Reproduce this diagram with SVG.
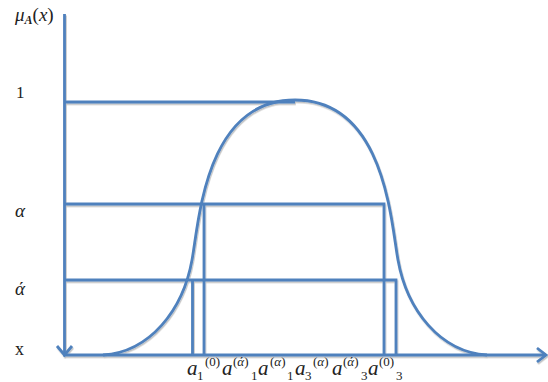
<svg xmlns="http://www.w3.org/2000/svg" width="548" height="382" viewBox="0 0 548 382">
  <defs>
    <filter id="sh" x="-5%" y="-5%" width="110%" height="110%">
      <feDropShadow dx="0.8" dy="1.5" stdDeviation="0.6" flood-color="#000" flood-opacity="0.25"/>
    </filter>
  </defs>
  <style>
    .ln { fill: none; stroke: #4F81BD; stroke-width: 2.8; stroke-linejoin: miter; }
    .lab { font-family: "Liberation Serif", "DejaVu Serif", serif; fill: #222; }
    .it { font-style: italic; }
    .big { font-size: 21px; }
    .sm { font-size: 13px; }
  </style>
  <rect width="548" height="382" fill="#fff"/>

  <g id="connectors" filter="url(#sh)">
    <g id="axes">
      <path class="ln" d="M64.5,14 V355 H546"/>
      <path class="ln" d="M57,346 L64.5,355 L72,346"/>
      <path class="ln" d="M537,348 L546,355 L537,362"/>
    </g>
    <g id="guides">
      <path class="ln" d="M64.5,102 H295"/>
      <path class="ln" d="M64.5,204 H384 V355"/>
      <path class="ln" d="M204,204 V355"/>
      <path class="ln" d="M64.5,280 H396 V355"/>
      <path class="ln" d="M192.5,280 V355"/>
    </g>
    <g id="curve">
      <path class="ln" d="M103,355 C150,352 183,310 192,260 C199,222 205,100 295,100 C385,100 391,222 398,260 C407,310 440,352 487,355"/>
    </g>
  </g>

  <g id="labels" class="lab">
    <text x="15" y="21" font-size="19"><tspan class="it">μ</tspan><tspan class="it" font-size="12" font-weight="bold" dy="3">A</tspan><tspan dy="-3">(</tspan><tspan class="it">x</tspan><tspan>)</tspan></text>
    <text x="16" y="98" font-size="17">1</text>
    <text x="15" y="217" font-size="19" class="it">α</text>
    <text x="15" y="295" font-size="19" class="it">ά</text>
    <text x="15" y="355" font-size="18">x</text>
  </g>

  <g id="axis-ticks" class="lab">
    <text x="187" y="375" class="it big">a</text>
    <text x="197" y="380" class="sm">1</text>
    <text x="205" y="366" class="sm">(0)</text>

    <text x="222" y="375" class="it big">a</text>
    <text x="233" y="366" class="sm">(<tspan class="it">ά</tspan>)</text>
    <text x="251" y="380" class="sm">1</text>

    <text x="258" y="375" class="it big">a</text>
    <text x="270" y="366" class="sm">(<tspan class="it">α</tspan>)</text>
    <text x="287" y="380" class="sm">1</text>

    <text x="295" y="375" class="it big">a</text>
    <text x="305" y="380" class="sm">3</text>
    <text x="313" y="366" class="sm">(<tspan class="it">α</tspan>)</text>

    <text x="332" y="375" class="it big">a</text>
    <text x="343" y="366" class="sm">(<tspan class="it">ά</tspan>)</text>
    <text x="361" y="380" class="sm">3</text>

    <text x="368" y="375" class="it big">a</text>
    <text x="379" y="366" class="sm">(0)</text>
    <text x="396" y="380" class="sm">3</text>
  </g>
</svg>
